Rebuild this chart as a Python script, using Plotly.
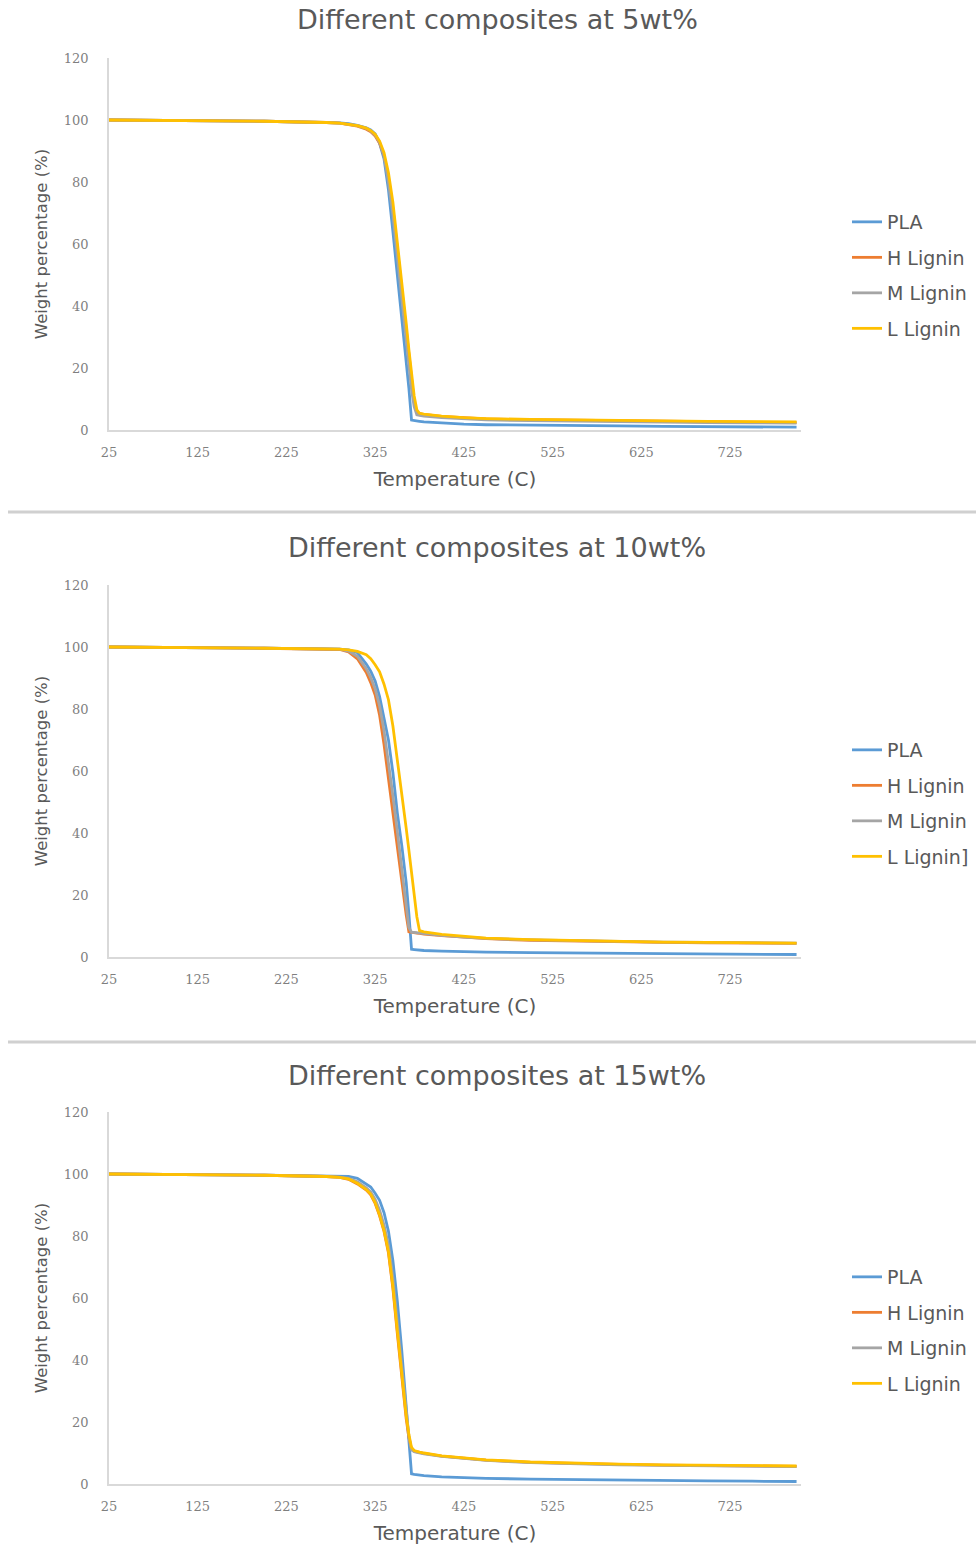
import plotly.graph_objects as go

# Temperature grid (C) shared by all TGA curves
temperature = [25, 50, 100, 150, 200, 250, 270, 285, 295, 305, 315, 320, 325, 330,
               335, 340, 345, 350, 355, 360, 363, 366, 369, 372, 375, 380, 400, 425,
               450, 500, 550, 600, 650, 700, 750, 800]

# 5 wt% composites
pla_5 = [100, 99.9, 99.8, 99.7, 99.6, 99.4, 99.3, 99.1, 98.8, 98.3, 97.5, 96.8, 95.5, 92.5,
         87.5, 77.5, 64, 50, 36.5, 22, 13.5, 3.2, 3.0, 2.9, 2.8, 2.6, 2.2, 1.9,
         1.7, 1.5, 1.4, 1.3, 1.2, 1.1, 1.0, 0.9]
h_5 = [100, 99.9, 99.8, 99.7, 99.6, 99.4, 99.2, 99.0, 98.6, 98.0, 97.0, 96.2, 94.8, 92.5,
       88.5, 81.5, 71.5, 58.5, 45, 31.5, 23, 15, 9, 5.6, 5.3, 5.0, 4.4, 3.9,
       3.6, 3.3, 3.1, 2.9, 2.8, 2.7, 2.5, 2.4]
m_5 = [100, 99.9, 99.8, 99.7, 99.6, 99.4, 99.2, 99.0, 98.7, 98.2, 97.3, 96.5, 95.2, 92.8,
       88.5, 80, 69.5, 56.5, 43, 29.5, 21, 13, 7.5, 4.9, 4.7, 4.5, 4.0, 3.6,
       3.3, 3.0, 2.8, 2.6, 2.5, 2.4, 2.3, 2.2]
l_5 = [100, 99.9, 99.8, 99.7, 99.6, 99.4, 99.2, 99.0, 98.7, 98.2, 97.4, 96.6, 95.4, 93.2,
       89.5, 83, 73.5, 61, 48, 34.5, 26, 18, 11, 6.5, 5.4, 5.1, 4.5, 4.0,
       3.7, 3.4, 3.2, 3.0, 2.9, 2.8, 2.7, 2.6]

# 10 wt% composites
pla_10 = [100, 99.9, 99.8, 99.7, 99.6, 99.5, 99.4, 99.3, 99.1, 98.2, 94.5, 92.2, 89, 84,
          77, 70, 59.5, 46.5, 36, 24, 14, 2.5, 2.4, 2.3, 2.2, 2.1, 1.9, 1.7,
          1.6, 1.4, 1.3, 1.2, 1.1, 1.0, 0.9, 0.8]
h_10 = [100, 99.9, 99.8, 99.7, 99.6, 99.5, 99.4, 99.2, 98.4, 96.2, 91.8, 88.5, 84.5, 78,
        68.5, 57.5, 46, 35, 23.5, 13.5, 8.1, 7.9, 7.8, 7.7, 7.6, 7.4, 6.9, 6.3,
        5.9, 5.4, 5.1, 4.9, 4.7, 4.6, 4.5, 4.4]
m_10 = [100, 99.9, 99.8, 99.7, 99.6, 99.5, 99.4, 99.3, 98.7, 97.0, 93, 90.2, 86.5, 81,
        73, 63, 52, 40.5, 29, 17.5, 9.5, 8.0, 7.9, 7.8, 7.7, 7.5, 7.0, 6.4,
        6.0, 5.5, 5.2, 5.0, 4.8, 4.7, 4.6, 4.5]
l_10 = [100, 99.9, 99.8, 99.7, 99.6, 99.5, 99.4, 99.3, 99.1, 98.6, 97.5, 96.2, 94.3, 92,
        88, 83, 74.5, 64, 52.5, 41.5, 34.5, 27, 19.5, 13, 8.5, 8.1, 7.3, 6.6,
        6.1, 5.6, 5.3, 5.0, 4.8, 4.7, 4.6, 4.5]

# 15 wt% composites
pla_15 = [100, 99.9, 99.8, 99.7, 99.6, 99.5, 99.4, 99.3, 99.2, 98.6, 96.8, 95.8, 93.8, 91.5,
          87.5, 81.5, 72, 59, 43, 25, 13.5, 3.3, 3.1, 3.0, 2.9, 2.7, 2.3, 2.0,
          1.8, 1.6, 1.4, 1.3, 1.2, 1.0, 0.9, 0.8]
h_15 = [100, 99.9, 99.8, 99.7, 99.6, 99.4, 99.2, 98.9, 98.3, 96.8, 94.8, 93.3, 90.5, 86.5,
        81.5, 74.5, 63, 48.5, 34, 21, 15, 11.2, 10.6, 10.4, 10.2, 9.9, 9.0, 8.3,
        7.7, 7.0, 6.6, 6.3, 6.1, 5.9, 5.8, 5.7]
m_15 = [100, 99.9, 99.8, 99.7, 99.6, 99.4, 99.2, 99.0, 98.6, 97.5, 95.5, 94.2, 91.8, 88.3,
        83.5, 77, 66.5, 52, 37, 23, 15.5, 11.0, 10.4, 10.2, 10.0, 9.7, 8.9, 8.2,
        7.6, 6.9, 6.5, 6.2, 6.0, 5.8, 5.7, 5.6]
l_15 = [100, 99.9, 99.8, 99.7, 99.6, 99.4, 99.2, 98.9, 98.4, 97.0, 95.0, 93.5, 90.8, 86.8,
        81.8, 75, 63.8, 49.5, 35, 22, 16, 11.8, 10.8, 10.5, 10.3, 10.0, 9.1, 8.4,
        7.8, 7.1, 6.7, 6.4, 6.2, 6.0, 5.9, 5.8]

panel_titles = ["Different composites at 5wt%", "Different composites at 10wt%",
                "Different composites at 15wt%"]
series_names = [
    ["PLA", "H Lignin", "M Lignin", "L Lignin"],
    ["PLA", "H Lignin", "M Lignin", "L Lignin]"],
    ["PLA", "H Lignin", "M Lignin", "L Lignin"],
]
panel_values = [
    [pla_5, h_5, m_5, l_5],
    [pla_10, h_10, m_10, l_10],
    [pla_15, h_15, m_15, l_15],
]
x_ticks = [25, 125, 225, 325, 425, 525, 625, 725]
y_ticks = [0, 20, 40, 60, 80, 100, 120]

colors = ["#5B9BD5", "#ED7D31", "#A5A5A5", "#FFC000"]

W, H = 976, 1562
# plot-area pixel boxes (top, bottom) for each panel
plot_boxes = [(58, 430), (585, 957), (1112, 1484)]
x_left, x_right = 109, 801
title_rows = [20, 547, 1075]
legend_tops = [203, 731, 1258]
separators = [512, 1042]

text_grey = "#595959"
tick_grey = "#7f7f7f"
axis_grey = "#d9d9d9"
sans = "DejaVu Sans"


def py(p):
    return 1 - p / H


fig = go.Figure()
legend_keys = ["legend", "legend2", "legend3"]

for i in range(3):
    suffix = "" if i == 0 else str(i + 1)
    for name, vals, col in zip(series_names[i], panel_values[i], colors):
        fig.add_trace(go.Scatter(
            x=temperature, y=vals, mode="lines", name=name,
            line=dict(color=col, width=2.8),
            xaxis="x" + suffix, yaxis="y" + suffix,
            legend=legend_keys[i], legendgroup=f"{i}-{name}",
        ))

    top, bottom = plot_boxes[i]
    fig.layout["xaxis" + suffix] = dict(
        domain=[x_left / W, x_right / W], anchor="y" + suffix, automargin=False,
        range=[25, 805], tickvals=x_ticks, showgrid=False, zeroline=False,
        showline=True, linecolor=axis_grey, linewidth=1.5, ticks="",
        ticklabelstandoff=10,
        tickfont=dict(family="DejaVu Serif", size=13, color=tick_grey),
        title=dict(text="Temperature (C)", standoff=13,
                   font=dict(family=sans, size=20, color=text_grey)),
    )
    fig.layout["yaxis" + suffix] = dict(
        domain=[py(bottom), py(top)], anchor="x" + suffix, automargin=False,
        range=[0, 120], tickvals=y_ticks, showgrid=False, zeroline=False,
        showline=True, linecolor=axis_grey, linewidth=1.5, ticks="",
        ticklabelstandoff=16,
        tickfont=dict(family="DejaVu Serif", size=13, color=tick_grey),
        title=dict(text="Weight percentage (%)", standoff=12,
                   font=dict(family=sans, size=16.5, color=text_grey)),
    )
    fig.layout[legend_keys[i]] = dict(
        x=847 / W, xanchor="left", y=py(legend_tops[i]), yanchor="top",
        font=dict(family=sans, size=19, color=text_grey),
        bgcolor="rgba(0,0,0,0)", tracegroupgap=7.8, itemwidth=30,
    )
    fig.add_annotation(
        text=panel_titles[i], xref="paper", yref="paper",
        x=497 / W, y=py(title_rows[i]), xanchor="center", yanchor="middle",
        showarrow=False, font=dict(family=sans, size=27, color=text_grey),
    )

for s in separators:
    fig.add_shape(type="line", xref="paper", yref="paper",
                  x0=8 / W, x1=1, y0=py(s), y1=py(s),
                  line=dict(color="#d0d0d0", width=3))

fig.update_layout(
    width=W, height=H, margin=dict(l=0, r=0, t=0, b=0, autoexpand=False),
    paper_bgcolor="white", plot_bgcolor="white",
    showlegend=True,
)

fig.write_html("out.html")
